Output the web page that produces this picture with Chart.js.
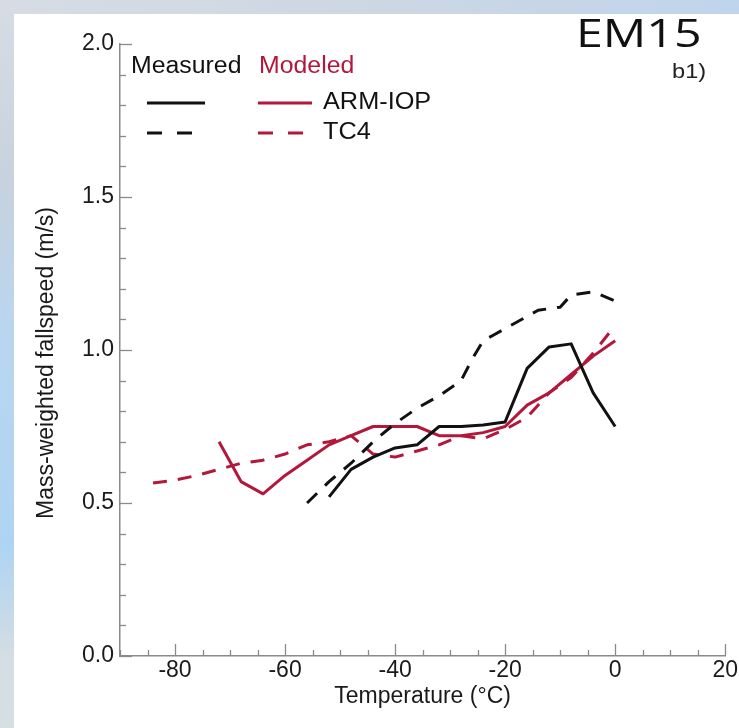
<!DOCTYPE html>
<html>
<head>
<meta charset="utf-8">
<script src="https://cdn.jsdelivr.net/npm/chart.js@4.4.1/dist/chart.umd.min.js"></script>
<style>
  html, body { margin: 0; padding: 0; background: #fff; }
  #wrap { width: 739px; height: 728px; }
</style>
</head>
<body>
<div id="wrap"><canvas id="myChart" width="739" height="728"></canvas></div>
<script>
// Données (température en °C, vitesse en m/s)
const armMeasuredTemp = [-52, -48, -44, -40, -36, -32, -28, -24, -20, -16, -12, -8, -4, 0];
const armMeasured = [0.52, 0.61, 0.65, 0.68, 0.69, 0.75, 0.75, 0.755, 0.765, 0.94, 1.01, 1.02, 0.86, 0.75];

const tc4MeasuredTemp = [-56, -52, -48, -44, -40, -36, -32, -28, -26, -24, -22, -18, -14, -10, -8, -4, 0];
const tc4Measured = [0.50, 0.57, 0.63, 0.70, 0.76, 0.81, 0.85, 0.90, 0.97, 1.03, 1.05, 1.09, 1.13, 1.14, 1.18, 1.19, 1.16];

const armModeledTemp = [-72, -68, -64, -60, -56, -52, -48, -44, -40, -36, -32, -28, -24, -20, -16, -12, -8, -4, 0];
const armModeled = [0.70, 0.57, 0.53, 0.59, 0.64, 0.69, 0.72, 0.75, 0.75, 0.75, 0.72, 0.72, 0.73, 0.75, 0.82, 0.86, 0.92, 0.98, 1.03];

const tc4ModeledTemp = [-84, -80, -76, -72, -68, -64, -60, -56, -52, -48, -44, -40, -36, -32, -28, -24, -20, -16, -12, -8, -4, 0];
const tc4Modeled = [0.565, 0.575, 0.59, 0.61, 0.63, 0.64, 0.66, 0.69, 0.70, 0.72, 0.66, 0.65, 0.67, 0.69, 0.72, 0.71, 0.74, 0.78, 0.86, 0.91, 0.99, 1.08];

// Axes
const xTicks = [-80, -60, -40, -20, 0, 20];
const yTicks = [0.0, 0.5, 1.0, 1.5, 2.0];

const BLACK = '#111111';
const RED = '#b3173c';
const FONT = '"Liberation Sans", Arial, sans-serif';

function toPoints(xs, ys) {
  return xs.map((x, i) => ({ x: x, y: ys[i] }));
}

// texte étiré horizontalement (la figure d'origine est un peu élargie)
function wideText(ctx, txt, x, y, sx) {
  ctx.save();
  ctx.translate(x, y);
  ctx.scale(sx, 1);
  ctx.fillText(txt, 0, 0);
  ctx.restore();
}

// Fond "ciel" + ticks intérieurs + légende et textes
const decor = {
  id: 'decor',
  beforeDraw(chart) {
    const ctx = chart.ctx;
    const W = chart.width, H = chart.height;
    ctx.save();
    const gl = ctx.createLinearGradient(0, 0, 0, H);
    gl.addColorStop(0, '#d7dce4');
    gl.addColorStop(0.25, '#c7d2de');
    gl.addColorStop(0.45, '#b9d6ef');
    gl.addColorStop(0.75, '#aed4f3');
    gl.addColorStop(0.9, '#d3dde3');
    gl.addColorStop(1, '#d6e0e3');
    ctx.fillStyle = gl;
    ctx.fillRect(0, 0, 14, H);
    const gt = ctx.createLinearGradient(0, 0, W, 0);
    gt.addColorStop(0, '#d7dce4');
    gt.addColorStop(0.5, '#cdd7e2');
    gt.addColorStop(1, '#bfd5ec');
    ctx.fillStyle = gt;
    ctx.fillRect(0, 0, W, 14);
    ctx.fillStyle = '#ffffff';
    ctx.fillRect(14, 14, W - 14, H - 14);
    ctx.restore();
  },
  afterDraw(chart) {
    const ctx = chart.ctx;
    const xs = chart.scales.x, ys = chart.scales.y;
    const area = chart.chartArea;
    ctx.save();
    ctx.strokeStyle = '#8a8a8a';
    ctx.lineWidth = 1.3;
    // ticks x (vers l'intérieur)
    for (let v = -90; v <= 20; v += 5) {
      const px = Math.round(xs.getPixelForValue(v)) + 0.5;
      const len = (v % 20 === 0) ? 12 : 6;
      ctx.beginPath();
      ctx.moveTo(px, area.bottom);
      ctx.lineTo(px, area.bottom - len);
      ctx.stroke();
    }
    // ticks y
    for (let i = 0; i <= 20; i++) {
      const v = i / 10;
      const py = Math.round(ys.getPixelForValue(v)) + 0.5;
      const len = (i % 5 === 0) ? 12 : 6;
      ctx.beginPath();
      ctx.moveTo(area.left, py);
      ctx.lineTo(area.left + len, py);
      ctx.stroke();
    }

    // légende
    ctx.textBaseline = 'middle';
    ctx.font = '23px ' + FONT;
    ctx.fillStyle = BLACK;
    wideText(ctx, 'Measured', 131, 67, 1.08);
    ctx.fillStyle = RED;
    wideText(ctx, 'Modeled', 259, 67, 1.08);
    ctx.fillStyle = BLACK;
    wideText(ctx, 'ARM-IOP', 323, 103, 1.1);
    wideText(ctx, 'TC4', 323, 133, 1.1);

    ctx.lineWidth = 3;
    const seg = (color, x0, x1, y, dash) => {
      ctx.strokeStyle = color;
      ctx.setLineDash(dash);
      ctx.beginPath();
      ctx.moveTo(x0, y);
      ctx.lineTo(x1, y);
      ctx.stroke();
    };
    seg(BLACK, 147, 205, 103, []);
    seg(RED, 258, 312, 103, []);
    seg(BLACK, 147, 192, 133, [15, 15]);
    seg(RED, 258, 303, 133, [15, 15]);
    ctx.setLineDash([]);

    // titres
    ctx.textBaseline = 'alphabetic';
    ctx.textAlign = 'left';
    ctx.fillStyle = BLACK;
    ctx.font = '39px "Open Sans", ' + FONT;
    wideText(ctx, 'EM15', 576, 47, 1.24);
    ctx.font = '20px ' + FONT;
    ctx.fillStyle = '#222';
    wideText(ctx, 'b1)', 672, 78, 1.18);

    ctx.textBaseline = 'middle';
    ctx.font = '23px ' + FONT;
    ctx.fillStyle = '#1a1a1a';
    ctx.textAlign = 'center';
    ctx.fillText('Temperature (\u00B0C)', (area.left + area.right) / 2, 697);

    ctx.translate(47, 363);
    ctx.rotate(-Math.PI / 2);
    ctx.fillText('Mass-weighted fallspeed (m/s)', 0, 0);
    ctx.restore();
  }
};

const ctx = document.getElementById('myChart').getContext('2d');

const myChart = new Chart(ctx, {
  type: 'line',
  data: {
    datasets: [
      {
        label: 'Measured ARM-IOP',
        data: toPoints(armMeasuredTemp, armMeasured),
        borderColor: BLACK,
        borderWidth: 3
      },
      {
        label: 'Measured TC4',
        data: toPoints(tc4MeasuredTemp, tc4Measured),
        borderColor: BLACK,
        borderWidth: 3,
        borderDash: [14, 11]
      },
      {
        label: 'Modeled ARM-IOP',
        data: toPoints(armModeledTemp, armModeled),
        borderColor: RED,
        borderWidth: 3
      },
      {
        label: 'Modeled TC4',
        data: toPoints(tc4ModeledTemp, tc4Modeled),
        borderColor: RED,
        borderWidth: 3,
        borderDash: [14, 11]
      }
    ]
  },
  options: {
    responsive: false,
    animation: false,
    layout: { padding: { left: 0, top: 44, right: 11, bottom: 0 } },
    elements: {
      point: { radius: 0 },
      line: { tension: 0, fill: false, borderCapStyle: 'butt', borderJoinStyle: 'round' }
    },
    plugins: {
      legend: { display: false },
      tooltip: { enabled: false }
    },
    scales: {
      x: {
        type: 'linear',
        min: -90,
        max: 20,
        afterBuildTicks: (s) => { s.ticks = xTicks.map(v => ({ value: v })); },
        afterFit: (s) => { s.height = 728 - 656; },
        grid: { display: false, drawTicks: false },
        border: { display: true, color: '#8a8a8a', width: 1.5 },
        ticks: {
          color: '#1a1a1a',
          padding: 1,
          font: { family: FONT, size: 23 },
          maxRotation: 0,
          autoSkip: false
        }
      },
      y: {
        type: 'linear',
        min: 0,
        max: 2,
        afterBuildTicks: (s) => { s.ticks = yTicks.map(v => ({ value: v })); },
        afterFit: (s) => { s.width = 120; },
        grid: { display: false, drawTicks: false },
        border: { display: true, color: '#8a8a8a', width: 1.5 },
        ticks: {
          color: '#1a1a1a',
          padding: 6,
          font: { family: FONT, size: 23 },
          callback: (v) => Number(v).toFixed(1)
        }
      }
    }
  },
  plugins: [decor]
});
</script>
</body>
</html>
